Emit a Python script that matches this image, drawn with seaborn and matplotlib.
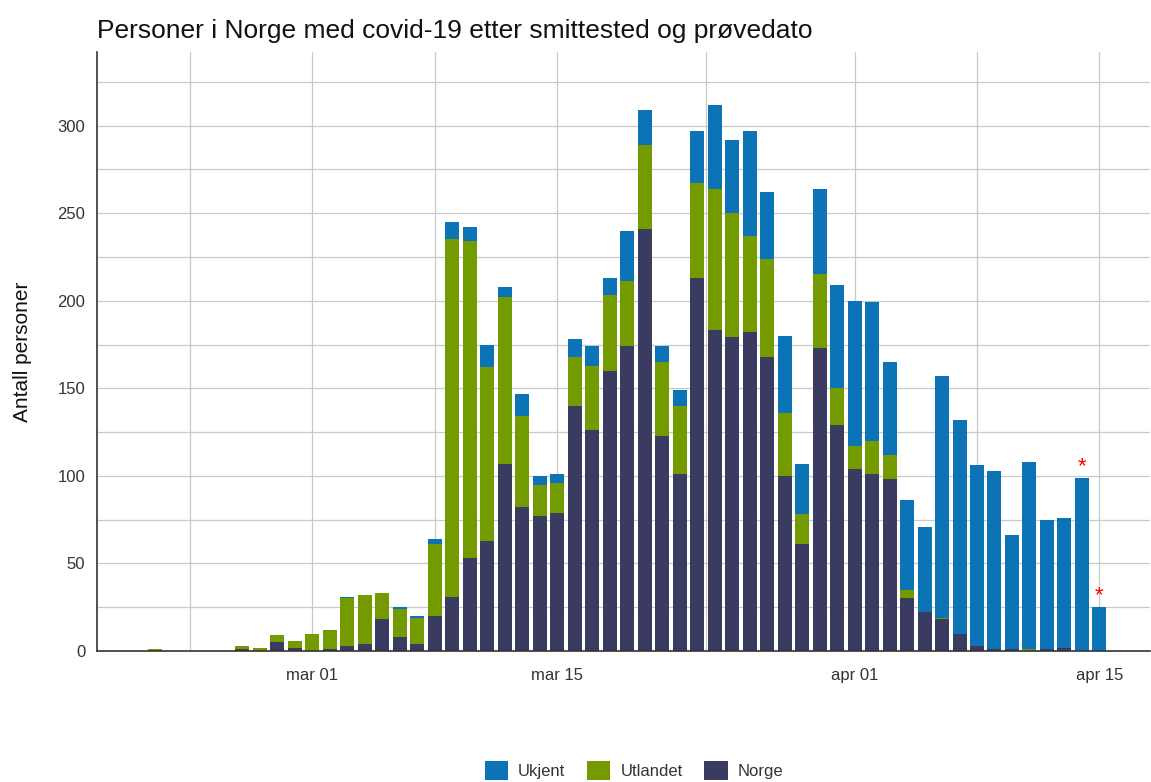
import numpy as np
import pandas as pd
import matplotlib
matplotlib.use("Agg")
import matplotlib.pyplot as plt
import seaborn as sns

# one value per day, feb 21 - apr 15 2020
dates = pd.date_range("2020-02-21", "2020-04-15", freq="D")

norge = [0, 0, 0, 0, 0, 1, 0, 5, 2,
         0, 1, 3, 4, 18, 8, 4, 20, 31, 53, 63, 107, 82, 77, 79, 140, 126, 160, 174,
         241, 123, 101, 213, 183, 179, 182, 168, 100, 61, 173, 129,
         104, 101, 98, 30, 22, 18, 10, 3, 1, 1, 0, 1, 2, 0, 0]
utlandet = [1, 0, 0, 0, 0, 2, 2, 4, 4,
            10, 11, 27, 28, 15, 16, 15, 41, 204, 181, 99, 95, 52, 18, 17, 28, 37, 43, 37,
            48, 42, 39, 54, 81, 71, 55, 56, 36, 17, 42, 21,
            13, 19, 14, 5, 0, 1, 0, 0, 0, 0, 1, 0, 0, 0, 0]
ukjent = [0, 0, 0, 0, 0, 0, 0, 0, 0,
          0, 0, 1, 0, 0, 1, 1, 3, 10, 8, 13, 6, 13, 5, 5, 10, 11, 10, 29,
          20, 9, 9, 30, 48, 42, 60, 38, 44, 29, 49, 59,
          83, 79, 53, 51, 49, 138, 122, 103, 102, 65, 107, 74, 74, 99, 25]

# days with incomplete data (marked with a red star)
incomplete = ["2020-04-14", "2020-04-15"]

tick_dates = ["2020-03-01", "2020-03-15", "2020-04-01", "2020-04-15"]
tick_labels = ["mar 01", "mar 15", "apr 01", "apr 15"]

groups = ["Ukjent", "Utlandet", "Norge"]
colors = {"Ukjent": "#0c74b6", "Utlandet": "#739b00", "Norge": "#393b61"}

start = pd.Timestamp("2020-03-01")
day = np.array((dates - start).days)

df = pd.DataFrame({
    "day": np.tile(day, 3),
    "antall": norge + utlandet + ukjent,
    "gruppe": ["Norge"] * len(day) + ["Utlandet"] * len(day) + ["Ukjent"] * len(day),
})

sns.set_style("whitegrid")
plt.rcParams['font.family'] = ['Liberation Sans', 'DejaVu Sans']

fig = plt.figure(figsize=(11.51, 7.82), dpi=100)
ax = fig.add_axes([0.0843, 0.1675, 0.915, 0.766])

sns.histplot(data=df, x="day", weights="antall", hue="gruppe", hue_order=groups,
             multiple="stack", discrete=True, shrink=0.8, palette=colors,
             alpha=1, linewidth=0, ax=ax)

# red stars over the incomplete days
total = np.array(norge) + np.array(utlandet) + np.array(ukjent)
for d in incomplete:
    i = list(dates).index(pd.Timestamp(d))
    ax.text(day[i], total[i] + 0.5, "*", color="red", fontsize=16,
            ha="center", va="bottom")

ax.set_xlim(-12.3, 47.9)
ax.set_ylim(0, 342)
ticks = [(pd.Timestamp(t) - start).days for t in tick_dates]
ax.set_xticks(ticks)
ax.set_xticklabels(tick_labels)
ax.set_xticks([(a + b) / 2 for a, b in zip([-14] + ticks[:-1], ticks)], minor=True)
ax.set_yticks(range(0, 301, 50))
ax.set_yticks(range(25, 342, 50), minor=True)

ax.grid(which="both", color="#c9c9c9", linewidth=0.9)
ax.set_axisbelow(True)
for s in ["top", "right"]:
    ax.spines[s].set_visible(False)
for s in ["left", "bottom"]:
    ax.spines[s].set_color("#333333")
    ax.spines[s].set_linewidth(1.2)
ax.tick_params(axis="both", which="major", length=5, color="#333333",
               labelsize=12, labelcolor="#333333")
ax.tick_params(axis="x", which="major", pad=7)
ax.tick_params(axis="both", which="minor", length=0)

ax.set_xlabel("")
ax.set_ylabel("Antall personer", fontsize=15, color="#111111", labelpad=18)
ax.set_title("Personer i Norge med covid-19 etter smittested og prøvedato",
             loc="left", fontsize=19, color="#111111", pad=10)

sns.move_legend(ax, "center", bbox_to_anchor=(0.51, -0.2), ncol=3, title=None,
                frameon=False, fontsize=12, handlelength=1.4, handleheight=1.4,
                columnspacing=1.3, handletextpad=0.6, labelcolor="#333333")

fig.savefig("out.png", dpi=100)
